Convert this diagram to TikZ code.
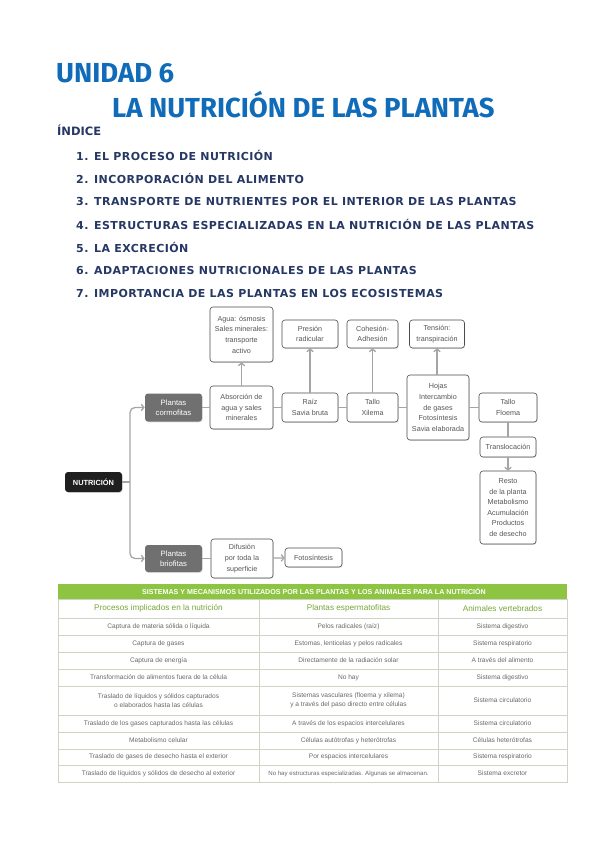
\documentclass[tikz,border=0pt]{standalone}
\usepackage{fontspec}
\setmainfont{Liberation Sans}
\newfontfamily\titlefont{Fira Sans}
\newfontfamily\idxfont[LetterSpace=4]{DejaVu Sans}
\newfontfamily\indfont{DejaVu Sans}
\usetikzlibrary{arrows.meta,shadows}
\definecolor{titleblue}{RGB}{16,108,184}
\definecolor{navy}{RGB}{38,56,100}
\definecolor{boxtext}{RGB}{85,85,85}
\definecolor{linegray}{RGB}{165,165,165}
\definecolor{darkfill}{RGB}{112,112,112}
\definecolor{tgreen}{RGB}{141,196,66}
\definecolor{tline}{RGB}{205,212,196}
\definecolor{ttext}{RGB}{105,105,105}
\begin{document}
\begin{tikzpicture}[x=1pt,y=-1pt,
  mapbox/.style={draw=black!70, line width=0.6pt, rounded corners=3pt, fill=white,
    align=center, text=boxtext, font=\fontsize{7.2}{10.6}\selectfont, inner sep=0pt,
    drop shadow={shadow xshift=0.7pt, shadow yshift=-0.9pt, opacity=0.25}},
  darkbox/.style={mapbox, draw=none, fill=darkfill, text=white, font=\fontsize{7.7}{10.4}\selectfont},
  conn/.style={draw=linegray, line width=1.3pt},
  arr/.style={conn, -{Straight Barb[length=2.6pt,width=6.5pt]}},
  idx/.style={anchor=west, inner sep=0pt, text=navy, font=\idxfont\bfseries\fontsize{11}{13}\selectfont},
  tcell/.style={inner sep=0pt, align=center, text=ttext, font=\fontsize{6.6}{8.6}\selectfont},
  thead/.style={inner sep=0pt, align=center, text=tgreen!85!black, font=\fontsize{8.2}{9}\selectfont},
  tline/.style={draw=tline, line width=0.5pt}
]
\useasboundingbox (0,0) rectangle (599,848);
\fill[white] (0,0) rectangle (599,848);

% Title
\node[anchor=west, inner sep=0pt, text=titleblue, font=\titlefont\bfseries\fontsize{27.5}{29}\selectfont] (t1) at (56,73) {UNIDAD 6};
\node[anchor=west, inner sep=0pt, text=titleblue, font=\titlefont\bfseries\fontsize{27.5}{29}\selectfont] (t2) at (112,105) {LA NUTRICIÓN DE LAS PLANTAS};
\node[anchor=west, inner sep=0pt, text=navy, font=\indfont\bfseries\fontsize{11.5}{13}\selectfont] (ind) at (57,130) {ÍNDICE};
\node[idx] (i1) at (76,155) {1. EL PROCESO DE NUTRICIÓN};
\node[idx] (i2) at (76,178) {2. INCORPORACIÓN DEL ALIMENTO};
\node[idx] (i3) at (76,201) {3. TRANSPORTE DE NUTRIENTES POR EL INTERIOR DE LAS PLANTAS};
\node[idx] (i4) at (76,224) {4. ESTRUCTURAS ESPECIALIZADAS EN LA NUTRICIÓN DE LAS PLANTAS};
\node[idx] (i5) at (76,247) {5. LA EXCRECIÓN};
\node[idx] (i6) at (76,270) {6. ADAPTACIONES NUTRICIONALES DE LAS PLANTAS};
\node[idx] (i7) at (76,293) {7. IMPORTANCIA DE LAS PLANTAS EN LOS ECOSISTEMAS};

% Concept map
\node[mapbox, minimum width=63pt, minimum height=55pt] (agua) at (241.5,334.5) {Agua: ósmosis\\Sales minerales:\\transporte\\activo};
\node[mapbox, minimum width=56pt, minimum height=28pt] (presion) at (310,334) {Presión\\radicular};
\node[mapbox, minimum width=51pt, minimum height=28pt] (cohesion) at (372.5,334) {Cohesión-\\Adhesión};
\node[mapbox, minimum width=55pt, minimum height=28pt] (tension) at (437,334) {Tensión:\\transpiración};

\node[darkbox, minimum width=57pt, minimum height=28pt] (cormo) at (173.5,407.5) {Plantas\\cormofitas};
\node[mapbox, minimum width=63pt, minimum height=43pt] (absorcion) at (241.5,407.5) {Absorción de\\agua y sales\\minerales};
\node[mapbox, minimum width=56pt, minimum height=29pt] (raiz) at (310,407.5) {Raíz\\Savia bruta};
\node[mapbox, minimum width=51pt, minimum height=29pt] (tallo) at (372.5,407.5) {Tallo\\Xilema};
\node[mapbox, minimum width=62pt, minimum height=65pt] (hojas) at (438,407.5) {Hojas\\Intercambio\\de gases\\Fotosíntesis\\Savia elaborada};
\node[mapbox, minimum width=58pt, minimum height=29pt] (floema) at (508,407.5) {Tallo\\Floema};
\node[mapbox, minimum width=56pt, minimum height=20pt] (transl) at (508,447) {Translocación};
\node[mapbox, minimum width=56pt, minimum height=73pt] (resto) at (508,507.5) {Resto\\de la planta\\Metabolismo\\Acumulación\\Productos\\de desecho};

\node[darkbox, fill=black!88, minimum width=57pt, minimum height=20pt, font=\bfseries\fontsize{7.4}{9}\selectfont] (nutri) at (93.5,482) {NUTRICIÓN};
\node[darkbox, minimum width=57pt, minimum height=27pt] (brio) at (173.5,558.5) {Plantas\\briofitas};
\node[mapbox, minimum width=62pt, minimum height=39pt] (difusion) at (242,558.5) {Difusión\\por toda la\\superficie};
\node[mapbox, minimum width=57pt, minimum height=19pt] (foto) at (313.5,557.5) {Fotosíntesis};

\coordinate (br) at (130,482);
\draw[conn] (nutri.east) -- (br);
\draw[arr, rounded corners=5pt] (br) |- (cormo.west);
\draw[arr, rounded corners=5pt] (br) |- (brio.west);
\draw[conn] (cormo) -- (absorcion);
\draw[conn] (absorcion) -- (raiz);
\draw[conn] (raiz) -- (tallo);
\draw[conn] (tallo) -- (hojas);
\draw[conn] (hojas) -- (floema);
\draw[arr] (absorcion) -- (agua);
\draw[arr] (raiz) -- (presion);
\draw[arr] (tallo) -- (cohesion);
\draw[arr] (hojas.north -| tension) -- (tension);
\draw[conn] (floema) -- (transl);
\draw[arr] (transl) -- (resto);
\draw[conn] (brio) -- (difusion);
\draw[arr] (difusion) -- (foto);

% Table
\fill[tgreen] (58,584) rectangle (567,599);
\node[inner sep=0pt, text=white, font=\bfseries\fontsize{7.1}{8}\selectfont] (th) at (314,591.5) {SISTEMAS Y MECANISMOS UTILIZADOS POR LAS PLANTAS Y LOS ANIMALES PARA LA NUTRICIÓN};
\draw[tline] (58,599) rectangle (567,782);
\foreach \yy in {618,635,652,669,686,715,732,749,765} \draw[tline] (58,\yy) -- (567,\yy);
\draw[tline] (259,599) -- (259,782);
\draw[tline] (438,599) -- (438,782);

\node[thead] (h1) at (158.5,608.5) {Procesos implicados en la nutrición};
\node[thead] (h2) at (348.5,608.5) {Plantas espermatofitas};
\node[thead] (h3) at (502.5,608.5) {Animales vertebrados};

\node[tcell] (a1) at (158.5,626.5) {Captura de materia sólida o líquida};
\node[tcell] (b1) at (348.5,626.5) {Pelos radicales (raíz)};
\node[tcell] (c1) at (502.5,626.5) {Sistema digestivo};
\node[tcell] (a2) at (158.5,643.5) {Captura de gases};
\node[tcell] (b2) at (348.5,643.5) {Estomas, lenticelas y pelos radicales};
\node[tcell] (c2) at (502.5,643.5) {Sistema respiratorio};
\node[tcell] (a3) at (158.5,660.5) {Captura de energía};
\node[tcell] (b3) at (348.5,660.5) {Directamente de la radiación solar};
\node[tcell] (c3) at (502.5,660.5) {A través del alimento};
\node[tcell] (a4) at (158.5,677.5) {Transformación de alimentos fuera de la célula};
\node[tcell] (b4) at (348.5,677.5) {No hay};
\node[tcell] (c4) at (502.5,677.5) {Sistema digestivo};
\node[tcell] (a5) at (158.5,700.5) {Traslado de líquidos y sólidos capturados\\o elaborados hasta las células};
\node[tcell] (b5) at (348.5,700.5) {Sistemas vasculares (floema y xilema)\\y a través del paso directo entre células};
\node[tcell] (c5) at (502.5,700.5) {Sistema circulatorio};
\node[tcell] (a6) at (158.5,723.5) {Traslado de los gases capturados hasta las células};
\node[tcell] (b6) at (348.5,723.5) {A través de los espacios intercelulares};
\node[tcell] (c6) at (502.5,723.5) {Sistema circulatorio};
\node[tcell] (a7) at (158.5,740.5) {Metabolismo celular};
\node[tcell] (b7) at (348.5,740.5) {Células autótrofas y heterótrofas};
\node[tcell] (c7) at (502.5,740.5) {Células heterótrofas};
\node[tcell] (a8) at (158.5,757) {Traslado de gases de desecho hasta el exterior};
\node[tcell] (b8) at (348.5,757) {Por espacios intercelulares};
\node[tcell] (c8) at (502.5,757) {Sistema respiratorio};
\node[tcell] (a9) at (158.5,773.5) {Traslado de líquidos y sólidos de desecho al exterior};
\node[tcell, font=\fontsize{6.1}{8}\selectfont] (b9) at (348.5,773.5) {No hay estructuras especializadas. Algunas se almacenan.};
\node[tcell] (c9) at (502.5,773.5) {Sistema excretor};
\end{tikzpicture}
\end{document}
